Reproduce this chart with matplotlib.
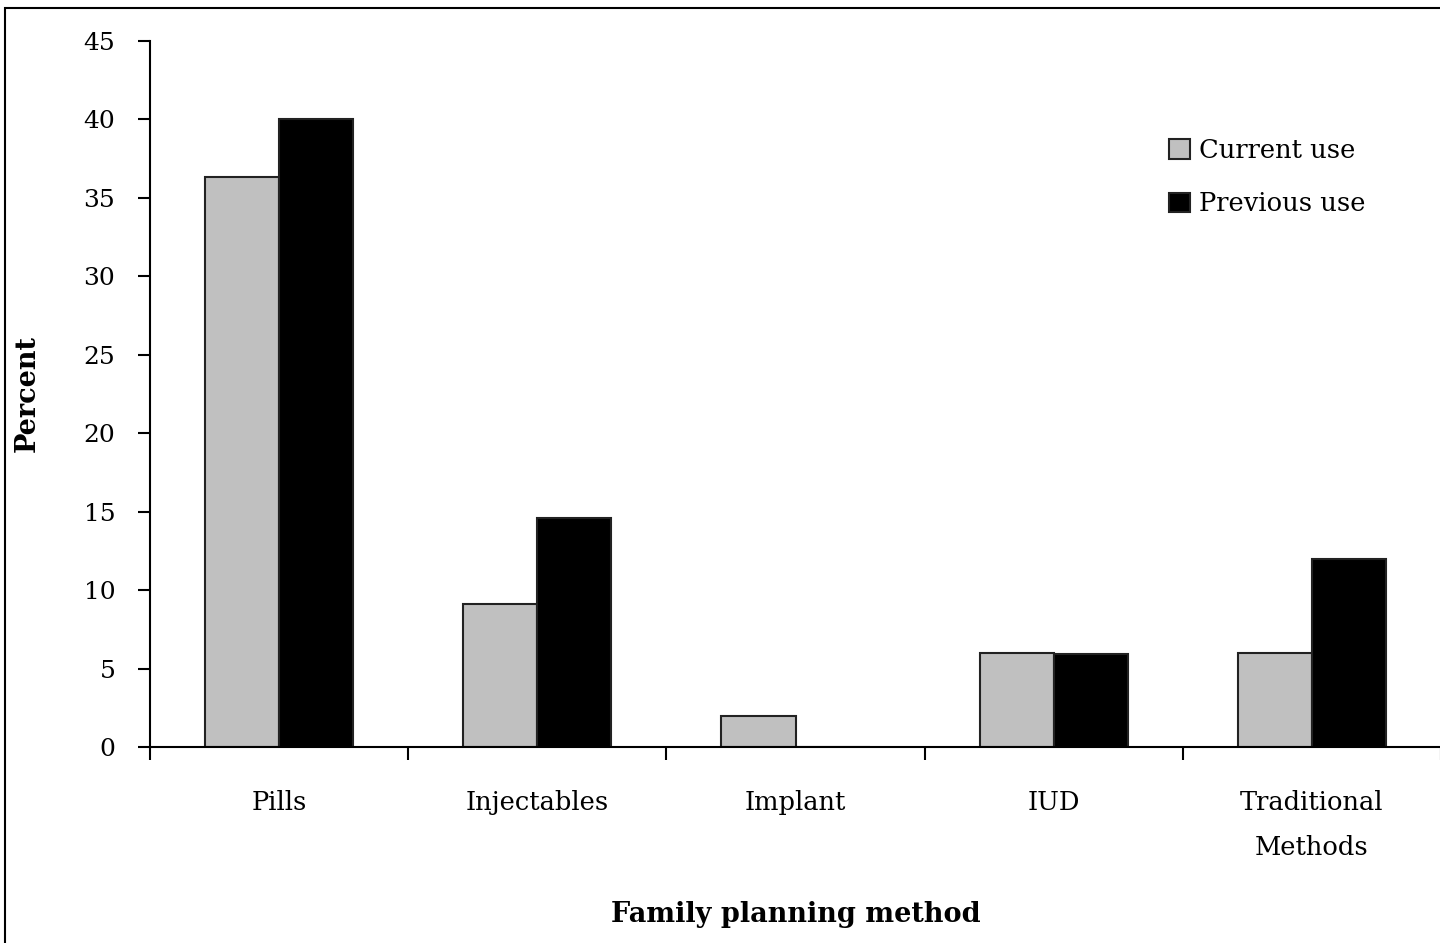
import numpy as np
import matplotlib.pyplot as plt
from matplotlib.patches import Rectangle

# Datos
metodos = ['Pills', 'Injectables', 'Implant', 'IUD', 'Traditional\nMethods']
uso_actual = [36.3, 9.1, 2.0, 6.0, 6.0]
uso_previo = [40.0, 14.6, 0.0, 5.9, 12.0]
series = ['Current use', 'Previous use']

plt.rcParams['font.family'] = ['DejaVu Serif']

fig = plt.figure(figsize=(14.4, 9.43), dpi=100)
ax = fig.add_axes([150 / 1440, 1 - 747 / 943, 1291 / 1440, 706 / 943])

x = np.arange(len(metodos))
ancho = 0.287
ax.bar(x - ancho / 2, uso_actual, ancho, color='#c0c0c0', edgecolor='#222222',
       linewidth=1.5, label=series[0])
ax.bar(x + ancho / 2, uso_previo, ancho, color='black', edgecolor='#222222',
       linewidth=1.5, label=series[1])

ax.set_xlim(-0.5, len(metodos) - 0.5)
ax.set_ylim(0, 45)
ax.set_yticks(np.arange(0, 46, 5))
ax.set_xticks(x)
ax.set_xticklabels(metodos, fontsize=18.5, linespacing=2.0)
ax.set_xticks(np.arange(-0.5, len(metodos), 1), minor=True)
ax.tick_params(axis='x', which='major', length=0, pad=31)
ax.tick_params(axis='x', which='minor', length=9, width=1.5, direction='out')
ax.tick_params(axis='y', length=9, width=1.5, labelsize=18, pad=16)

for lado in ['top', 'right']:
    ax.spines[lado].set_visible(False)
for lado in ['left', 'bottom']:
    ax.spines[lado].set_linewidth(1.5)

ax.set_ylabel('Percent', fontsize=19.5, fontweight='bold')
ax.yaxis.set_label_coords(-0.085, 0.5)
ax.set_xlabel('Family planning method', fontsize=19.5, fontweight='bold')
ax.xaxis.set_label_coords(0.5, -0.218)

ax.legend(loc='upper left', bbox_to_anchor=(1169 / 1440, 1 - 138 / 943),
          bbox_transform=fig.transFigure, frameon=False, fontsize=18.5,
          handlelength=0.8, handleheight=0.8, handletextpad=0.36,
          labelspacing=1.1, borderpad=0, borderaxespad=0)

# Marco de la figura
fig.patches.append(Rectangle((5 / 1440, -0.1), 1.1, 1.1 - 8 / 943, fill=False,
                             edgecolor='black', linewidth=1.5,
                             transform=fig.transFigure, figure=fig))

fig.savefig('out.png', dpi=100)
